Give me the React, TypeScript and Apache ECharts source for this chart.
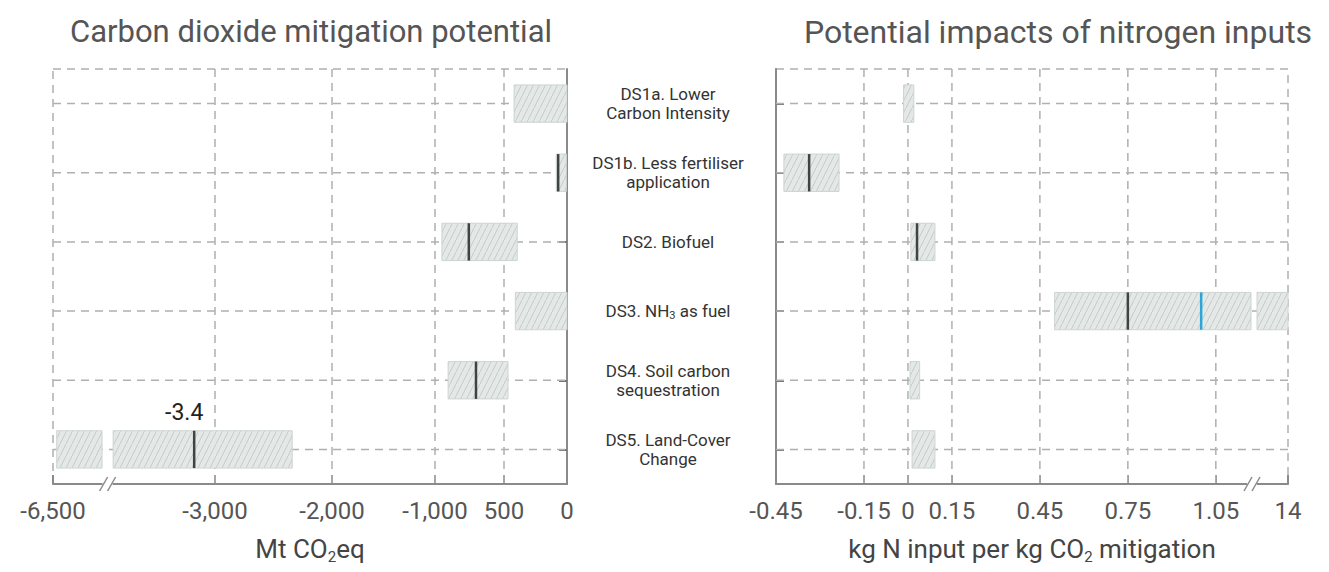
import React, { useEffect, useRef } from "react";
import * as echarts from "echarts";

// ---------- data ----------
const categories = [
  "DS1a. Lower\nCarbon Intensity",
  "DS1b. Less fertiliser\napplication",
  "DS2. Biofuel",
  "DS3. NH₃ as fuel",
  "DS4. Soil carbon\nsequestration",
  "DS5. Land-Cover\nChange",
];

// Carbon dioxide mitigation potential (Mt CO2eq)
const co2Low = [-420, -85, -950, -410, -905, -6420];
const co2High = [0, -5, -395, 0, -468, -2340];
const co2Median: (number | null)[] = [null, -70, -755, null, -703, -3450];
const co2MedianLabel: (string | null)[] = [null, null, null, null, null, "-3.4"];

// Potential impacts of nitrogen inputs (kg N input per kg CO2 mitigation)
const nLow = [-0.015, -0.423, 0.01, 0.5, 0.007, 0.014];
const nHigh = [0.02, -0.235, 0.092, 14, 0.04, 0.092];
const nMedian: (number | null)[] = [null, -0.337, 0.031, 0.75, null, null];
const nSecondMarker: (number | null)[] = [null, null, null, 1.0, null, null];

// axis ticks
const co2TickValues = [-6500, -3000, -2000, -1000, -500, 0];
const co2TickLabels = ["-6,500", "-3,000", "-2,000", "-1,000", "500", "0"];
const nTickValues = [-0.45, -0.15, 0, 0.15, 0.45, 0.75, 1.05, 14];
const nTickLabels = ["-0.45", "-0.15", "0", "0.15", "0.45", "0.75", "1.05", "14"];

// axis scale definitions (piecewise, as drawn in the original) and breaks
const co2ScaleDomain = [-6500, -3000, -2000, -1000, -500, 0];
const co2ScaleRange = [0, 162, 279, 382, 451, 514];
const co2Break = [-5440, -5200];
const nScaleDomain = [-0.45, 1.17, 13.82, 14];
const nScaleRange = [0, 475, 481, 512];
const nBreak = [1.17, 13.82];

// ---------- helpers ----------
function piecewise(domain: number[], range: number[]) {
  return (v: number) => {
    if (v <= domain[0]) {
      const k = (range[1] - range[0]) / (domain[1] - domain[0]);
      return range[0] + (v - domain[0]) * k;
    }
    for (let i = 0; i < domain.length - 1; i++) {
      if (v <= domain[i + 1]) {
        const t = (v - domain[i]) / (domain[i + 1] - domain[i]);
        return range[i] + t * (range[i + 1] - range[i]);
      }
    }
    const n = domain.length - 1;
    const k = (range[n] - range[n - 1]) / (domain[n] - domain[n - 1]);
    return range[n] + (v - domain[n]) * k;
  };
}

function pieces(low: number, high: number, brk: number[]) {
  if (low < brk[0] && high > brk[1]) return [[low, brk[0]], [brk[1], high]];
  return [[low, high]];
}

const FONT = "Roboto, 'Noto Sans', sans-serif";
const GRID_TOP = 69;
const GRID_H = 415;
const H = 572;

function makeHatch() {
  const c = document.createElement("canvas");
  c.width = 6;
  c.height = 12;
  const g = c.getContext("2d")!;
  g.fillStyle = "#e4e9e7";
  g.fillRect(0, 0, 6, 12);
  g.strokeStyle = "#c2cbc8";
  g.lineWidth = 1;
  g.beginPath();
  g.moveTo(0, 12);
  g.lineTo(6, 0);
  g.stroke();
  return { image: c.toDataURL(), imageWidth: 6, imageHeight: 12, repeat: "repeat" };
}

export default function App() {
  const ref = useRef<HTMLDivElement>(null);

  useEffect(() => {
    document.body.style.margin = "0";
    const chart = echarts.init(ref.current!, null, { renderer: "svg" });
    const hatch = makeHatch();

    const co2Scale = piecewise(co2ScaleDomain, co2ScaleRange);
    const nScale = piecewise(nScaleDomain, nScaleRange);

    const barData = (lows: number[], highs: number[], scale: (v: number) => number, brk: number[]) => {
      const out: number[][] = [];
      lows.forEach((lo, i) => {
        pieces(lo, highs[i], brk).forEach(([a, b]) => out.push([scale(a), scale(b), i]));
      });
      return out;
    };

    type Marker = { x: number; row: number; color: string; label: string | null };
    const co2Markers: Marker[] = [];
    co2Median.forEach((m, i) => {
      if (m != null) co2Markers.push({ x: co2Scale(m), row: i, color: "#3f4442", label: co2MedianLabel[i] });
    });
    const nMarkers: Marker[] = [];
    nMedian.forEach((m, i) => {
      if (m != null) nMarkers.push({ x: nScale(m), row: i, color: "#3f4442", label: null });
    });
    nSecondMarker.forEach((m, i) => {
      if (m != null) nMarkers.push({ x: nScale(m), row: i, color: "#2ba6d6", label: null });
    });

    const renderBar = (params: any, api: any) => {
      const s = api.coord([api.value(0), api.value(2)]);
      const e = api.coord([api.value(1), api.value(2)]);
      const h = api.size([0, 1])[1] * 0.54;
      return {
        type: "rect",
        shape: { x: s[0], y: s[1] - h / 2, width: e[0] - s[0], height: h },
        style: { fill: hatch, stroke: "#cdd4d2", lineWidth: 1 },
      };
    };

    const renderMarker = (markers: Marker[]) => (params: any, api: any) => {
      const m = markers[params.dataIndex];
      const p = api.coord([api.value(0), api.value(1)]);
      const h = api.size([0, 1])[1] * 0.54;
      const children: any[] = [
        {
          type: "line",
          shape: { x1: p[0], y1: p[1] - h / 2, x2: p[0], y2: p[1] + h / 2 },
          style: { stroke: m.color, lineWidth: 2.5 },
        },
      ];
      if (m.label) {
        children.push({
          type: "text",
          x: p[0] - 10,
          y: p[1] - h / 2 - 7,
          style: {
            text: m.label,
            align: "center",
            verticalAlign: "bottom",
            fontSize: 23,
            fontFamily: FONT,
            fill: "#222",
          },
        });
      }
      return { type: "group", children };
    };

    // dashed grid lines: kind 0 = vertical at x value, kind 1 = horizontal at row
    const renderGridLine = (params: any, api: any) => {
      const cs = params.coordSys;
      const kind = api.value(2);
      const style = { stroke: "#b0b0b0", lineWidth: 1.5, lineDash: [8, 6] };
      if (kind === 0) {
        const x = api.coord([api.value(0), 0])[0];
        return { type: "line", shape: { x1: x, y1: cs.y, x2: x, y2: cs.y + cs.height }, style };
      }
      const y = api.coord([0, api.value(1)])[1];
      return { type: "line", shape: { x1: cs.x, y1: y, x2: cs.x + cs.width, y2: y }, style };
    };

    const co2TickDisp = co2TickValues.map(co2Scale);
    const nTickDisp = nTickValues.map(nScale);

    const gridLineData = (tickDisp: number[]) => [
      ...tickDisp.slice(1, tickDisp.length - 1).map((v) => [v, 0, 0]),
      ...categories.map((_, i) => [0, i, 1]),
    ];

    const labelFor = (disp: number[], labels: string[]) => (v: number) => {
      let best = 0;
      disp.forEach((d, i) => {
        if (Math.abs(d - v) < Math.abs(disp[best] - v)) best = i;
      });
      return labels[best];
    };

    const xAxisCommon = (min: number, max: number, disp: number[], labels: string[], name: string, grid: number) => ({
      type: "value",
      gridIndex: grid,
      min,
      max,
      name,
      nameLocation: "middle",
      nameGap: 50,
      nameTextStyle: {
        fontSize: 26,
        color: "#444",
        fontFamily: FONT,
        lineHeight: 30,
        rich: { sub: { fontSize: 15, lineHeight: 16, verticalAlign: "bottom", color: "#444", fontFamily: FONT } },
      },
      axisLine: { show: true, onZero: false, lineStyle: { color: "#8a8a8a", width: 2 } },
      axisTick: { show: true, inside: true, length: 9, customValues: disp, lineStyle: { color: "#8a8a8a", width: 2 } },
      axisLabel: {
        customValues: disp,
        formatter: labelFor(disp, labels),
        fontSize: 24,
        color: "#555",
        fontFamily: FONT,
        margin: 15,
      },
      splitLine: { show: false },
    });

    const yAxisCommon = (grid: number, position: string, showLabel: boolean) => ({
      type: "category",
      gridIndex: grid,
      data: categories,
      inverse: true,
      position,
      axisLine: { show: true, onZero: false, lineStyle: { color: "#8a8a8a", width: 2 } },
      axisTick: { show: true, inside: true, alignWithLabel: true, length: 8, lineStyle: { color: "#777", width: 2 } },
      axisLabel: showLabel
        ? {
            show: true,
            margin: 108,
            align: "center",
            fontSize: 17,
            lineHeight: 19,
            color: "#333",
            fontFamily: FONT,
            formatter: (v: string) => v.replace("₃", "{sub|3}"),
            rich: { sub: { fontSize: 11, lineHeight: 11, verticalAlign: "bottom", color: "#333", fontFamily: FONT } },
          }
        : { show: false },
      splitLine: { show: false },
    });

    const gridCommon = {
      show: true,
      top: GRID_TOP,
      height: GRID_H,
      borderColor: "#b0b0b0",
      borderWidth: 1.5,
      borderType: [8, 6],
      containLabel: false,
    };

    chart.setOption({
      animation: false,
      backgroundColor: "#fff",
      title: [
        {
          text: "Carbon dioxide mitigation potential",
          left: 306,
          top: 11,
          textAlign: "center",
          textStyle: { fontSize: 31, fontWeight: "normal", color: "#555", fontFamily: FONT },
        },
        {
          text: "Potential impacts of nitrogen inputs",
          left: 1053,
          top: 11,
          textAlign: "center",
          textStyle: { fontSize: 32, fontWeight: "normal", color: "#555", fontFamily: FONT },
        },
      ],
      grid: [
        { ...gridCommon, left: 53, width: 514 },
        { ...gridCommon, left: 776, width: 512 },
      ],
      xAxis: [
        xAxisCommon(0, 514, co2TickDisp, co2TickLabels, "Mt CO{sub|2}eq", 0),
        xAxisCommon(0, 512, nTickDisp, nTickLabels, "kg N input per kg CO{sub|2} mitigation", 1),
      ],
      yAxis: [yAxisCommon(0, "right", false), yAxisCommon(1, "left", true)],
      series: [
        {
          type: "custom",
          name: "co2-grid",
          xAxisIndex: 0,
          yAxisIndex: 0,
          z: 1,
          silent: true,
          renderItem: renderGridLine,
          encode: { x: 0, y: 1 },
          data: gridLineData(co2TickDisp),
        },
        {
          type: "custom",
          name: "co2-range",
          xAxisIndex: 0,
          yAxisIndex: 0,
          z: 3,
          renderItem: renderBar,
          encode: { x: [0, 1], y: 2 },
          data: barData(co2Low, co2High, co2Scale, co2Break),
        },
        {
          type: "custom",
          name: "co2-median",
          xAxisIndex: 0,
          yAxisIndex: 0,
          z: 4,
          renderItem: renderMarker(co2Markers),
          encode: { x: 0, y: 1 },
          data: co2Markers.map((m) => [m.x, m.row]),
        },
        {
          type: "custom",
          name: "n-grid",
          xAxisIndex: 1,
          yAxisIndex: 1,
          z: 1,
          silent: true,
          renderItem: renderGridLine,
          encode: { x: 0, y: 1 },
          data: gridLineData(nTickDisp),
        },
        {
          type: "custom",
          name: "n-range",
          xAxisIndex: 1,
          yAxisIndex: 1,
          z: 3,
          renderItem: renderBar,
          encode: { x: [0, 1], y: 2 },
          data: barData(nLow, nHigh, nScale, nBreak),
        },
        {
          type: "custom",
          name: "n-median",
          xAxisIndex: 1,
          yAxisIndex: 1,
          z: 4,
          renderItem: renderMarker(nMarkers),
          encode: { x: 0, y: 1 },
          data: nMarkers.map((m) => [m.x, m.row]),
        },
      ],
    });

    // axis-break marks on the x axis lines
    const axisY = GRID_TOP + GRID_H;
    const breakMark = (xAxisIndex: number, disp: number) => {
      const x = chart.convertToPixel({ xAxisIndex } as any, disp) as unknown as number;
      const mk = (dx: number) => ({
        type: "line",
        shape: { x1: x + dx - 4, y1: axisY + 7, x2: x + dx + 4, y2: axisY - 7 },
        style: { stroke: "#8a8a8a", lineWidth: 1.5 },
        z: 20,
      });
      return [
        { type: "rect", shape: { x: x - 5, y: axisY - 2, width: 10, height: 4 }, style: { fill: "#fff" }, z: 19 },
        mk(-4),
        mk(4),
      ];
    };
    chart.setOption({
      graphic: [
        ...breakMark(0, (co2Scale(co2Break[0]) + co2Scale(co2Break[1])) / 2),
        ...breakMark(1, (nScale(nBreak[0]) + nScale(nBreak[1])) / 2 - 2),
      ],
    });

    return () => chart.dispose();
  }, []);

  return <div ref={ref} style={{ width: 1329, height: H }} />;
}
